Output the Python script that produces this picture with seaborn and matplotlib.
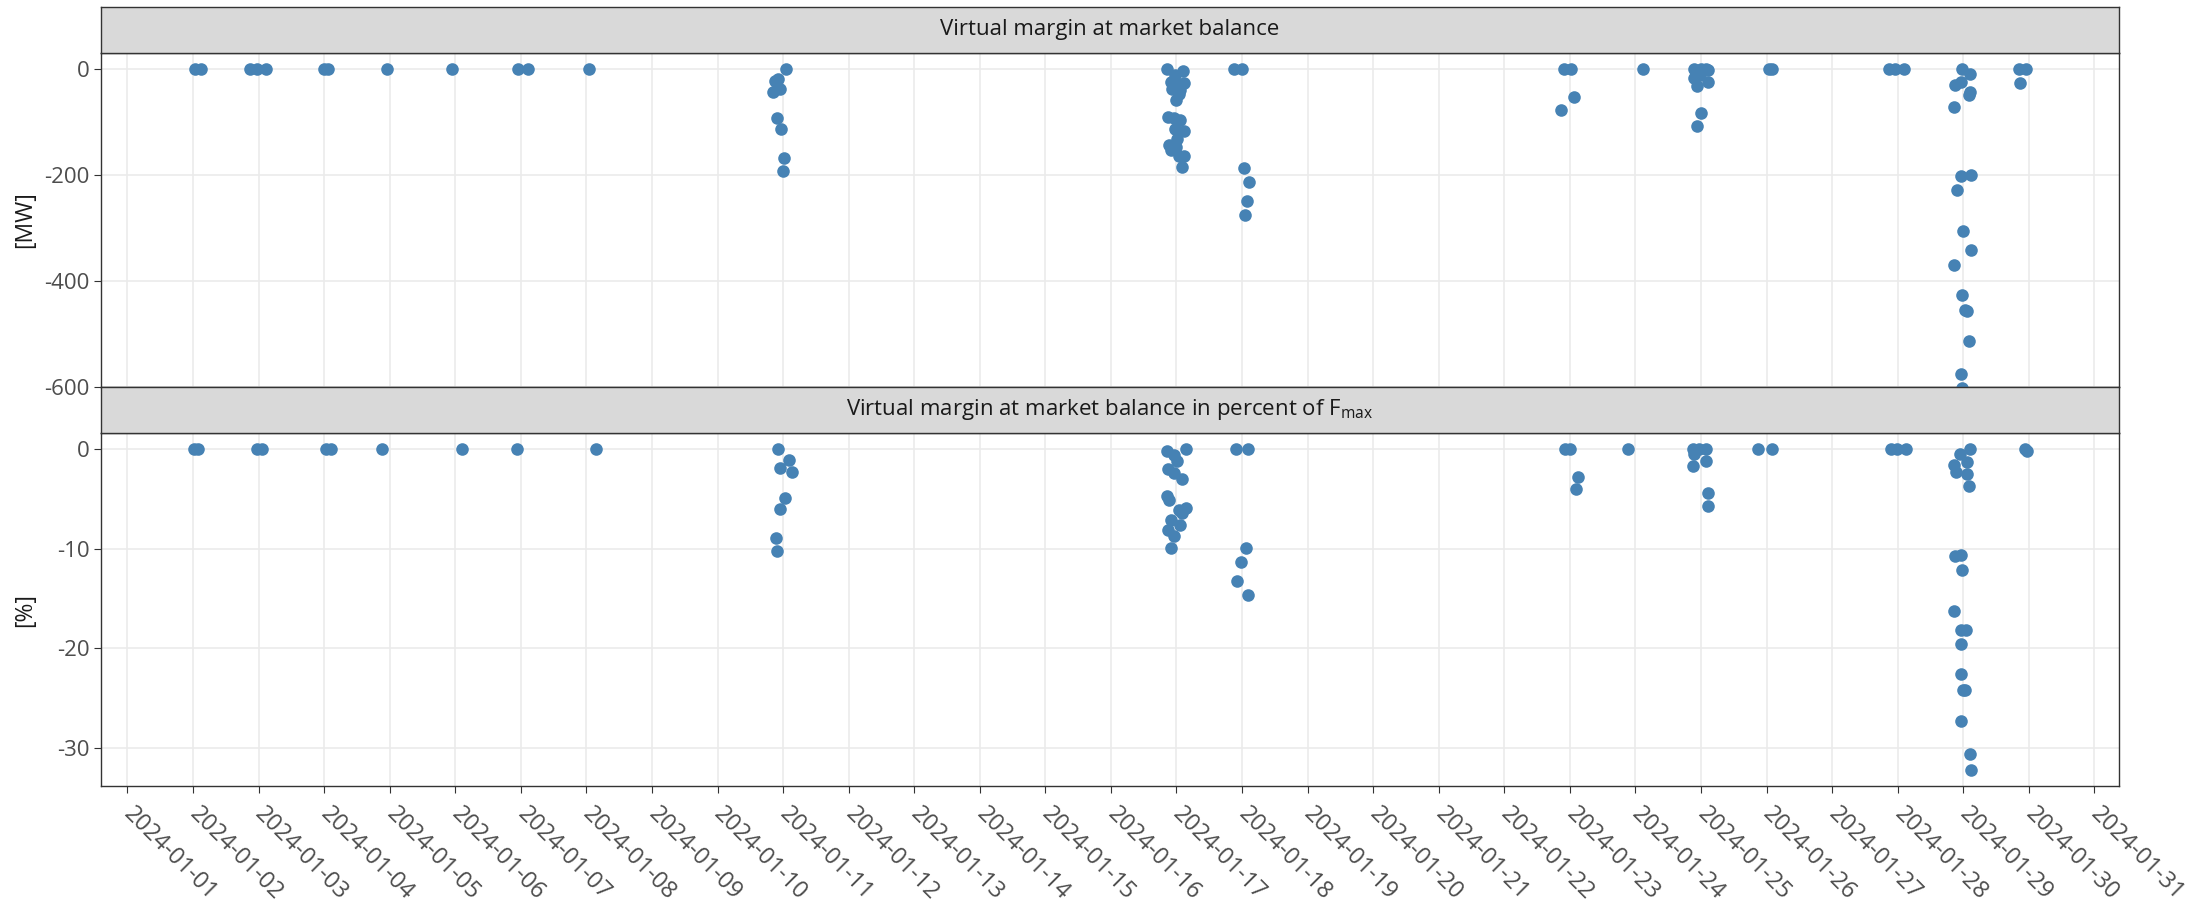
import pandas as pd
import matplotlib
matplotlib.use("Agg")
import matplotlib.pyplot as plt
import matplotlib.dates as mdates
import seaborn as sns

# virtual margin at market balance [MW]
mw_time = [
    "2024-01-02 00:50", "2024-01-02 02:53", "2024-01-02 20:57", "2024-01-02 23:24", "2024-01-03 02:48",
    "2024-01-04 00:00", "2024-01-04 01:26", "2024-01-04 22:54", "2024-01-05 22:48", "2024-01-06 23:08",
    "2024-01-07 02:48", "2024-01-08 00:52",
    "2024-01-11 00:58", "2024-01-10 21:07", "2024-01-10 22:19", "2024-01-10 23:02", "2024-01-10 20:24",
    "2024-01-10 21:36", "2024-01-10 23:17", "2024-01-11 00:14", "2024-01-11 00:07",
    "2024-01-16 20:24", "2024-01-17 02:24", "2024-01-16 23:31", "2024-01-16 21:50", "2024-01-17 02:38",
    "2024-01-17 00:14", "2024-01-16 22:19", "2024-01-17 01:12", "2024-01-17 00:58", "2024-01-17 00:00",
    "2024-01-16 20:53", "2024-01-16 23:02", "2024-01-17 01:12", "2024-01-16 23:31", "2024-01-17 02:38",
    "2024-01-17 00:14", "2024-01-16 21:07", "2024-01-16 22:05", "2024-01-17 00:00", "2024-01-17 00:58",
    "2024-01-17 02:38", "2024-01-17 01:55",
    "2024-01-17 20:53", "2024-01-18 00:00", "2024-01-18 00:43", "2024-01-18 02:24", "2024-01-18 01:55",
    "2024-01-18 01:12",
    "2024-01-22 21:50", "2024-01-23 00:29", "2024-01-23 01:26", "2024-01-22 20:53", "2024-01-24 02:38",
    "2024-01-24 21:22", "2024-01-25 00:00", "2024-01-25 01:41", "2024-01-25 02:24", "2024-01-24 21:22",
    "2024-01-24 23:31", "2024-01-25 02:24", "2024-01-24 22:34", "2024-01-25 00:00", "2024-01-24 22:34",
    "2024-01-26 00:58", "2024-01-26 02:10",
    "2024-01-27 20:38", "2024-01-27 23:02", "2024-01-28 02:10",
    "2024-01-28 23:31", "2024-01-29 02:38", "2024-01-28 23:17", "2024-01-28 21:07", "2024-01-29 02:38",
    "2024-01-29 02:10", "2024-01-28 20:38", "2024-01-28 23:02", "2024-01-29 02:53", "2024-01-28 21:36",
    "2024-01-29 00:00", "2024-01-29 02:53", "2024-01-28 20:38", "2024-01-28 23:31", "2024-01-29 00:43",
    "2024-01-29 01:26", "2024-01-29 01:55", "2024-01-28 23:02", "2024-01-28 23:31",
    "2024-01-29 20:24", "2024-01-29 22:48", "2024-01-29 20:38",
]
mw_value = [
    0, 0, 0, 0, 0,
    0, 0, 0, 0, 0,
    0, 0,
    0, -21, -18, -37, -43,
    -92, -113, -168, -192,
    0, -3, -11, -24, -25,
    -27, -37, -38, -46, -57,
    -89, -92, -96, -113, -117,
    -131, -142, -153, -147, -164,
    -164, -185,
    0, 0, -187, -213, -249,
    -275,
    0, 0, -53, -76, 0,
    0, 0, 0, -2, -16,
    -11, -23, -31, -82, -106,
    0, 0,
    0, 0, 0,
    0, -8, -24, -30, -43,
    -48, -71, -202, -199, -227,
    -306, -342, -369, -427, -455,
    -457, -513, -575, -602,
    0, 0, -26,
]

# virtual margin at market balance in percent of Fmax [%]
pct_time = [
    "2024-01-02 00:30", "2024-01-02 01:40", "2024-01-02 23:24", "2024-01-03 01:12", "2024-01-04 00:43",
    "2024-01-04 02:24", "2024-01-04 21:07", "2024-01-06 02:38", "2024-01-06 22:34", "2024-01-08 03:36",
    "2024-01-10 22:05", "2024-01-11 02:10", "2024-01-10 23:02", "2024-01-11 03:22", "2024-01-11 00:43",
    "2024-01-10 23:02", "2024-01-10 21:22", "2024-01-10 21:36",
    "2024-01-16 20:24", "2024-01-17 03:22", "2024-01-16 23:02", "2024-01-17 00:14", "2024-01-16 20:53",
    "2024-01-16 23:02", "2024-01-17 02:10", "2024-01-16 20:24", "2024-01-16 21:07", "2024-01-17 00:58",
    "2024-01-17 03:22", "2024-01-17 02:10", "2024-01-16 21:50", "2024-01-17 01:26", "2024-01-16 20:53",
    "2024-01-16 23:02", "2024-01-16 21:50",
    "2024-01-17 21:50", "2024-01-18 02:10", "2024-01-18 01:26", "2024-01-17 23:46", "2024-01-17 22:05",
    "2024-01-18 02:10",
    "2024-01-22 22:19", "2024-01-23 00:00", "2024-01-23 02:53", "2024-01-23 02:10", "2024-01-23 21:07",
    "2024-01-24 21:07", "2024-01-24 23:17", "2024-01-25 01:55", "2024-01-24 21:22", "2024-01-25 01:41",
    "2024-01-24 21:07", "2024-01-25 02:24", "2024-01-25 02:38",
    "2024-01-25 20:53", "2024-01-26 01:55",
    "2024-01-27 21:22", "2024-01-27 23:46", "2024-01-28 03:07",
    "2024-01-29 02:24", "2024-01-28 22:48", "2024-01-29 01:12", "2024-01-28 20:38", "2024-01-28 21:22",
    "2024-01-29 01:26", "2024-01-29 01:55", "2024-01-28 20:53", "2024-01-28 23:02", "2024-01-28 23:31",
    "2024-01-28 20:38", "2024-01-28 23:17", "2024-01-29 00:58", "2024-01-28 23:02", "2024-01-28 23:17",
    "2024-01-29 00:00", "2024-01-29 00:43", "2024-01-28 23:02", "2024-01-29 02:24", "2024-01-29 02:53",
    "2024-01-29 22:40", "2024-01-29 23:30",
]
pct_value = [
    0, 0, 0, 0, 0,
    0, 0, 0, 0, 0,
    0, -1.1, -1.9, -2.3, -4.9,
    -6.0, -8.9, -10.2,
    -0.2, 0, -0.6, -1.2, -2.0,
    -2.4, -3.0, -4.7, -5.1, -6.1,
    -5.9, -6.4, -7.1, -7.6, -8.1,
    -8.7, -9.9,
    0, 0, -9.9, -11.3, -13.2,
    -14.6,
    0, 0, -2.8, -4.0, 0,
    0, 0, 0, -0.5, -1.2,
    -1.7, -4.4, -5.7,
    0, 0,
    0, 0, 0,
    0, -0.5, -1.3, -1.6, -2.3,
    -2.5, -3.7, -10.7, -10.6, -12.1,
    -16.3, -18.2, -18.2, -19.6, -22.6,
    -24.2, -24.2, -27.3, -30.6, -32.2,
    0, -0.2,
]

strip_titles = ["Virtual margin at market balance",
                r"Virtual margin at market balance in percent of F$_{\mathregular{max}}$"]
y_titles = ["[MW]", "[%]"]
mw_ticks = [0, -200, -400, -600]
pct_ticks = [0, -10, -20, -30]

sns.set_style("white")
plt.rcParams["font.family"] = ["Open Sans", "DejaVu Sans"]
plt.rcParams["mathtext.fontset"] = "custom"
plt.rcParams["mathtext.rm"] = "Open Sans"
plt.rcParams["axes.unicode_minus"] = False

W, H = 2208, 910
fig = plt.figure(figsize=(W / 100, H / 100), dpi=100)


def box(x0, y0, x1, y1):
    return [x0 / W, 1 - y1 / H, (x1 - x0) / W, (y1 - y0) / H]


ax1 = fig.add_axes(box(101, 53, 2119, 387))
ax2 = fig.add_axes(box(101, 433, 2119, 786), sharex=ax1)
st1 = fig.add_axes(box(101, 7, 2119, 53))
st2 = fig.add_axes(box(101, 387, 2119, 433))

df1 = pd.DataFrame({"time": pd.to_datetime(mw_time), "value": mw_value})
df2 = pd.DataFrame({"time": pd.to_datetime(pct_time), "value": pct_value})

blue = "#4682B4"
sns.scatterplot(data=df1, x="time", y="value", ax=ax1, color=blue, s=82, linewidth=0, zorder=3)
sns.scatterplot(data=df2, x="time", y="value", ax=ax2, color=blue, s=82, linewidth=0, zorder=3)

ax1.set_xlim(pd.Timestamp("2023-12-31 14:20"), pd.Timestamp("2024-01-31 09:00"))
ax1.set_ylim(-600, 31)
ax2.set_ylim(-33.8, 1.6)
ax1.set_yticks(mw_ticks)
ax2.set_yticks(pct_ticks)

for ax in (ax1, ax2):
    ax.set_axisbelow(True)
    ax.grid(True, color="#ebebeb", linewidth=1.2)
    ax.set_xlabel("")
    ax.set_ylabel("")
    for sp in ax.spines.values():
        sp.set_visible(True)
        sp.set_color("#333333")
        sp.set_linewidth(1.0)
    ax.tick_params(axis="y", direction="out", length=5, width=0.8, color="#333333",
                   labelsize=16, labelcolor="#4d4d4d", pad=3, left=True)

ax1.xaxis.set_major_locator(mdates.DayLocator())
ax1.xaxis.set_major_formatter(mdates.DateFormatter("%Y-%m-%d"))
ax1.tick_params(axis="x", length=0, labelbottom=False)
ax2.tick_params(axis="x", direction="out", length=5, width=0.8, color="#333333",
                labelsize=16.8, labelcolor="#4d4d4d", pad=13, bottom=True, labelbottom=True)
for lab in ax2.get_xticklabels():
    lab.set_rotation(-45)
    lab.set_ha("left")
    lab.set_va("center")
    lab.set_rotation_mode("anchor")

for st, title in zip((st1, st2), strip_titles):
    st.set_facecolor("#d9d9d9")
    st.set_xticks([])
    st.set_yticks([])
    for sp in st.spines.values():
        sp.set_color("#333333")
        sp.set_linewidth(1.0)
    st.text(0.5, 0.5, title, ha="center", va="center", fontsize=16, color="#1a1a1a",
            transform=st.transAxes)

fig.text(25 / W, 1 - 220 / H, y_titles[0], rotation=90, ha="center", va="center", fontsize=16.5, color="#1a1a1a")
fig.text(25 / W, 1 - 610 / H, y_titles[1], rotation=90, ha="center", va="center", fontsize=16.5, color="#1a1a1a")

fig.savefig("out.png", dpi=100)
